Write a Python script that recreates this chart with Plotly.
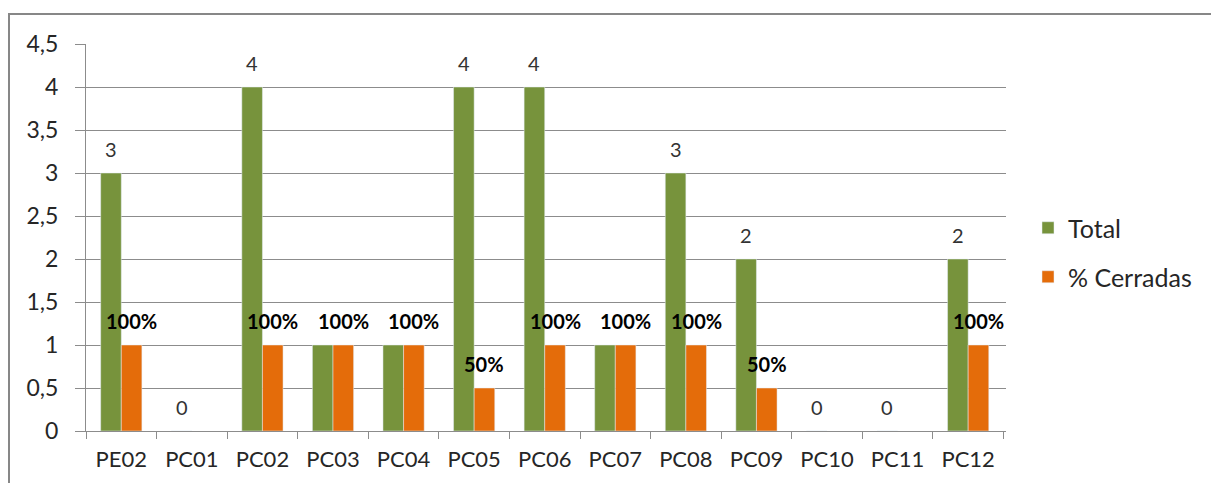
import plotly.graph_objects as go

# Data
categorias = ["PE02", "PC01", "PC02", "PC03", "PC04", "PC05", "PC06",
              "PC07", "PC08", "PC09", "PC10", "PC11", "PC12"]
total = [3, 0, 4, 1, 1, 4, 4, 1, 3, 2, 0, 0, 2]
cerradas = [1, None, 1, 1, 1, 0.5, 1, 1, 1, 0.5, None, None, 1]
y_ticks = [0, 0.5, 1, 1.5, 2, 2.5, 3, 3.5, 4, 4.5]

VERDE = "#77933C"
NARANJA = "#E46C0A"
GRIS = "#8C8C8C"
FONT = "Lato"

W, H = 1211, 483
ML, MR, MT, MB = 86, 205, 44, 52
PW, PH = W - ML - MR, H - MT - MB

fig = go.Figure()
fig.add_trace(go.Bar(x=categorias, y=total, name="Total",
                     marker=dict(color=VERDE), legend="legend",
                     showlegend=True))
fig.add_trace(go.Bar(x=categorias, y=cerradas, name="% Cerradas",
                     marker=dict(color=NARANJA), legend="legend2",
                     showlegend=True))

# value labels above each bar
cat_w = PW / len(categorias)
bar_w = cat_w * (1 - 0.416) / 2
ann = []
for cat, t, c in zip(categorias, total, cerradas):
    # the "1" of Total sits under the percentage label of the same group
    if not (t == 1 and c == 1):
        ann.append(dict(x=cat, y=t, xref="x", yref="y", text=str(t),
                        showarrow=False, yanchor="middle", yshift=24,
                        xshift=-bar_w / 2,
                        font=dict(family=FONT, size=20, color="#333333")))
    if c is not None:
        ann.append(dict(x=cat, y=c, xref="x", yref="y", text=f"<b>{c:.0%}</b>",
                        showarrow=False, yanchor="middle", yshift=24,
                        xshift=bar_w / 2,
                        font=dict(family=FONT, size=20, color="#000000")))


def px_x(p):
    return (p - ML) / PW


def px_y(p):
    return (H - MB - p) / PH


fig.update_layout(
    width=W, height=H,
    margin=dict(l=ML, r=MR, t=MT, b=MB, pad=0),
    paper_bgcolor="white", plot_bgcolor="white",
    separators=",.",
    showlegend=True,
    barmode="group", bargap=0.416, bargroupgap=0,
    font=dict(family=FONT, size=20, color="#262626"),
    annotations=ann,
    shapes=[dict(type="rect", xref="paper", yref="paper",
                 x0=px_x(9), x1=px_x(1230), y0=px_y(500), y1=px_y(14),
                 line=dict(color="#878787", width=2), layer="below")],
    legend=dict(x=px_x(1028), y=px_y(228), xanchor="left", yanchor="middle",
                font=dict(family=FONT, size=25, color="#262626"),
                bgcolor="rgba(0,0,0,0)"),
    legend2=dict(x=px_x(1028), y=px_y(277), xanchor="left", yanchor="middle",
                 font=dict(family=FONT, size=25, color="#262626"),
                 bgcolor="rgba(0,0,0,0)"),
    xaxis=dict(showline=True, linecolor=GRIS, linewidth=1,
               ticks="outside", tickson="boundaries", ticklen=7,
               tickcolor=GRIS, showgrid=False, ticklabelstandoff=9,
               tickfont=dict(family=FONT, size=22, color="#262626")),
    yaxis=dict(range=[0, 4.5], tickvals=y_ticks, showline=True,
               linecolor=GRIS, linewidth=1, ticks="outside", ticklen=10,
               tickcolor=GRIS, showgrid=True, gridcolor=GRIS, gridwidth=1,
               zeroline=False, ticklabelstandoff=12,
               tickfont=dict(family=FONT, size=23, color="#262626")),
)

fig.write_html("out.html")
